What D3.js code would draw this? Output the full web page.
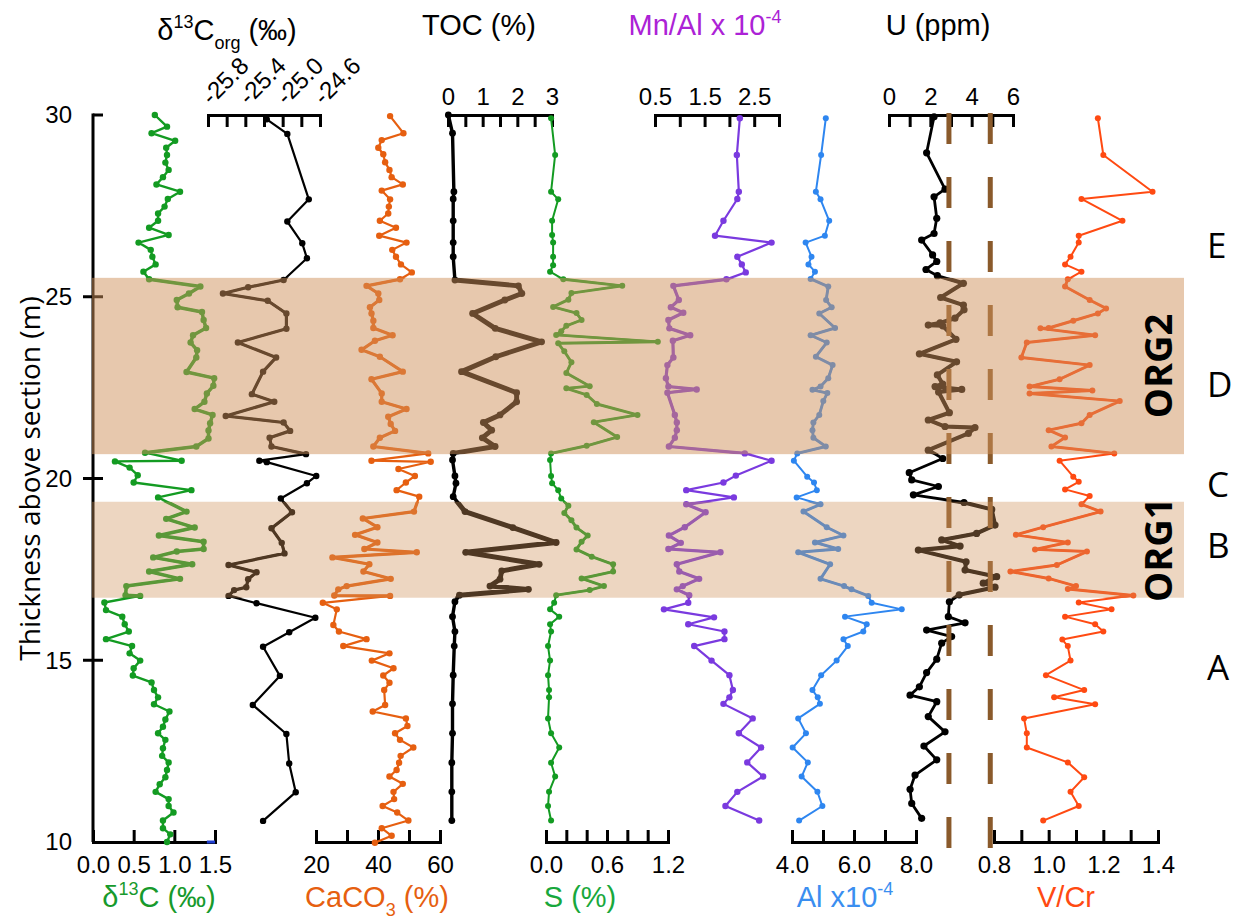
<!DOCTYPE html>
<html lang="en">
<head>
  <meta charset="UTF-8" />
  <title>Geochemical profiles - ORG1 / ORG2</title>
  <script src="https://d3js.org/d3.v7.min.js"></script>
  <style>
    html, body {
      margin: 0;
      padding: 0;
      background: #fff;
    }
    svg { display: block; }
    .num {
      font-family: 'Liberation Sans', Arial, sans-serif;
      font-size: 24px;
      fill: #000;
    }
    .title {
      font-family: 'Liberation Sans', Arial, sans-serif;
      font-size: 29px;
    }
    .zone {
      font-family: 'Open Sans', 'DejaVu Sans', sans-serif;
      font-size: 35px;
      fill: #000;
    }
    .org {
      font-family: 'Open Sans', 'DejaVu Sans', sans-serif;
      font-size: 38px;
      font-weight: 700;
      fill: #000;
    }
    .ylabel {
      font-family: 'Open Sans', 'DejaVu Sans', sans-serif;
      font-size: 28px;
      fill: #000;
    }
  </style>
</head>
<body>
  <svg id="chart" width="1240" height="922"></svg>

  <script>
    // ---- data: [thickness (m), value] ----
    const d13cCarb = [[30.00,0.76],[29.68,0.91],[29.50,0.72],[29.29,1.01],[29.10,0.90],[28.90,0.91],[28.69,0.89],[28.49,0.93],[28.29,0.86],[28.09,0.78],[27.89,1.07],[27.69,0.92],[27.48,0.88],[27.29,0.80],[27.09,0.80],[26.90,0.69],[26.70,0.93],[26.49,0.56],[26.29,0.71],[26.10,0.73],[25.89,0.77],[25.69,0.62],[25.48,0.69],[25.28,1.32],[25.09,1.18],[24.91,1.03],[24.71,1.04],[24.58,1.34],[24.36,1.36],[24.14,1.39],[23.94,1.23],[23.74,1.20],[23.53,1.28],[23.33,1.27],[22.93,1.15],[22.76,1.49],[22.55,1.48],[22.34,1.40],[22.11,1.37],[21.91,1.25],[21.75,1.47],[21.52,1.44],[21.32,1.42],[21.10,1.42],[20.88,1.27],[20.71,0.64],[20.49,1.09],[20.47,0.27],[20.30,0.45],[20.09,0.55],[19.89,0.50],[19.68,1.21],[19.48,0.80],[19.09,1.15],[18.89,0.90],[18.65,1.25],[18.43,0.81],[18.26,1.36],[18.06,1.36],[17.99,1.03],[17.83,0.74],[17.64,1.22],[17.44,0.69],[17.24,1.07],[17.04,0.41],[16.79,0.40],[16.77,0.58],[16.59,0.14],[16.38,0.16],[16.20,0.36],[15.99,0.39],[15.79,0.44],[15.58,0.16],[15.39,0.48],[15.19,0.45],[14.99,0.58],[14.78,0.50],[14.58,0.49],[14.39,0.72],[14.18,0.75],[13.98,0.80],[13.79,0.75],[13.59,0.94],[13.37,0.89],[13.17,0.86],[12.99,0.80],[12.81,0.89],[12.58,0.86],[12.37,0.85],[12.19,0.93],[11.98,0.91],[11.78,0.89],[11.59,0.82],[11.38,0.77],[11.18,0.93],[10.99,0.93],[10.81,0.99],[10.59,0.86],[10.38,0.86],[10.21,0.95],[10.00,0.91]];

    const d13cOrg = [[29.88,-25.17],[29.48,-24.95],[27.68,-24.72],[27.07,-24.95],[26.47,-24.79],[26.06,-24.74],[25.46,-24.99],[25.26,-25.37],[25.09,-25.64],[24.89,-25.16],[24.54,-24.96],[24.12,-24.96],[23.74,-25.48],[23.33,-25.07],[22.94,-25.21],[22.32,-25.33],[22.11,-25.09],[21.72,-25.61],[21.54,-24.99],[21.31,-24.92],[21.12,-25.14],[20.88,-25.12],[20.67,-24.75],[20.49,-25.25],[20.45,-25.17],[20.07,-24.64],[19.87,-24.74],[19.45,-25.02],[19.07,-24.90],[18.63,-25.12],[18.23,-25.01],[17.94,-24.98],[17.62,-25.58],[17.42,-25.28],[17.23,-25.37],[17.01,-25.39],[16.93,-25.52],[16.77,-25.58],[16.57,-25.28],[16.17,-24.65],[15.77,-24.93],[15.37,-25.21],[14.57,-25.03],[13.77,-25.32],[12.97,-24.96],[12.16,-24.93],[11.37,-24.86],[10.58,-25.21]];

    const caco3 = [[29.97,43.9],[29.50,48.2],[29.31,41.2],[29.10,40.1],[28.92,41.7],[28.70,42.3],[28.49,43.7],[28.29,44.4],[28.09,48.0],[27.92,41.2],[27.68,43.9],[27.48,43.5],[27.29,43.3],[27.09,40.6],[26.90,45.8],[26.68,40.4],[26.49,49.2],[26.29,44.6],[26.10,45.8],[25.89,47.4],[25.67,50.9],[25.48,47.1],[25.30,36.3],[25.09,40.1],[24.91,40.4],[24.71,37.4],[24.54,37.9],[24.34,38.5],[24.14,38.5],[23.94,44.7],[23.79,39.0],[23.54,34.7],[23.35,40.6],[22.94,48.0],[22.73,37.9],[22.34,41.2],[22.11,41.2],[21.91,49.2],[21.70,43.3],[21.50,44.1],[21.31,45.5],[21.12,40.6],[20.88,38.5],[20.69,56.2],[20.49,37.9],[20.46,57.0],[20.26,46.6],[20.07,51.9],[19.89,49.0],[19.68,46.0],[19.50,53.3],[19.09,51.6],[18.90,35.1],[18.66,39.8],[18.45,32.6],[18.24,39.8],[18.06,35.6],[17.97,52.5],[17.83,25.3],[17.64,37.2],[17.44,35.3],[17.24,44.1],[17.04,29.9],[16.95,27.2],[16.78,25.9],[16.77,43.9],[16.58,22.2],[16.40,26.7],[15.97,25.6],[15.79,27.4],[15.58,36.3],[15.39,28.8],[15.19,43.7],[14.99,38.0],[14.78,45.0],[14.58,41.7],[14.38,43.7],[14.18,42.0],[13.77,42.3],[13.59,38.3],[13.40,49.0],[13.19,49.5],[12.99,45.5],[12.81,47.1],[12.60,51.4],[12.37,47.3],[12.18,46.8],[11.98,46.0],[11.80,43.7],[11.60,48.0],[11.38,45.0],[11.18,45.2],[10.99,41.5],[10.81,46.2],[10.59,49.8],[10.38,41.2],[10.17,44.4],[9.98,39.0]];

    const toc = [[30.00,0.01],[29.50,0.13],[27.89,0.17],[27.69,0.15],[27.09,0.15],[26.49,0.15],[26.10,0.15],[25.46,0.20],[25.30,2.03],[25.09,2.13],[24.91,1.64],[24.54,0.71],[24.13,1.36],[23.76,2.70],[23.35,1.38],[22.94,0.39],[22.36,1.98],[22.11,1.98],[21.75,1.50],[21.54,1.02],[21.33,1.26],[21.12,0.99],[20.88,1.36],[20.69,0.15],[20.51,0.13],[20.07,0.20],[19.87,0.23],[19.50,0.15],[19.09,0.49],[18.65,1.87],[18.24,3.12],[17.97,0.51],[17.64,2.63],[17.46,1.55],[17.23,1.50],[17.04,1.21],[16.95,2.32],[16.79,0.33],[16.61,0.20],[16.20,0.13],[15.79,0.20],[15.39,0.18],[14.59,0.15],[13.80,0.13],[12.99,0.13],[12.18,0.11],[11.38,0.11],[10.59,0.11]];

    const sulfur = [[29.91,0.05],[28.90,0.09],[27.89,0.05],[27.68,0.12],[27.09,0.06],[26.70,0.06],[26.49,0.07],[26.10,0.07],[25.87,0.07],[25.69,0.04],[25.48,0.17],[25.30,0.75],[25.10,0.25],[24.92,0.22],[24.72,0.07],[24.55,0.30],[24.36,0.35],[24.20,0.20],[24.05,0.15],[23.95,0.10],[23.76,1.10],[23.72,0.12],[23.50,0.18],[23.20,0.25],[22.90,0.20],[22.54,0.43],[22.48,0.20],[22.30,0.40],[22.05,0.50],[21.75,0.90],[21.55,0.47],[21.14,0.70],[20.90,0.40],[20.69,0.05],[20.51,0.04],[20.07,0.05],[19.87,0.06],[19.68,0.12],[19.45,0.15],[19.25,0.22],[19.05,0.18],[18.85,0.25],[18.65,0.30],[18.43,0.41],[18.26,0.35],[18.05,0.30],[17.85,0.45],[17.64,0.66],[17.44,0.66],[17.25,0.35],[17.04,0.57],[16.93,0.43],[16.79,0.10],[16.58,0.08],[16.40,0.04],[16.20,0.13],[15.99,0.04],[15.79,0.05],[15.39,0.02],[14.99,0.04],[14.59,0.02],[14.18,0.03],[13.98,0.03],[13.40,0.02],[12.99,0.05],[12.60,0.13],[12.18,0.05],[11.80,0.09],[11.38,0.03],[10.99,0.02],[10.59,0.05]];

    const mnAl = [[29.91,2.21],[28.90,2.15],[27.89,2.19],[27.69,2.16],[27.09,1.88],[26.68,1.71],[26.49,2.85],[26.10,2.16],[25.89,2.25],[25.67,2.33],[25.48,1.94],[25.30,0.87],[24.91,0.98],[24.71,0.82],[24.56,1.07],[24.36,0.77],[24.13,0.79],[23.94,1.21],[23.79,0.86],[23.33,0.87],[23.12,0.75],[22.76,0.72],[22.53,0.77],[22.45,1.34],[22.36,0.75],[21.75,0.90],[21.54,0.94],[21.33,0.94],[21.12,0.90],[20.88,0.78],[20.69,2.31],[20.49,2.85],[20.08,2.13],[19.89,1.88],[19.68,1.13],[19.48,2.09],[19.29,1.13],[19.07,1.52],[18.66,1.10],[18.43,0.78],[18.23,1.02],[18.06,0.77],[17.97,1.82],[17.64,0.94],[17.44,0.99],[17.24,1.39],[17.04,1.06],[16.95,0.94],[16.79,1.19],[16.58,1.17],[16.40,0.68],[16.18,1.69],[15.99,1.17],[15.79,1.90],[15.58,1.90],[15.39,1.29],[14.99,1.64],[14.59,2.00],[14.18,2.07],[13.98,2.00],[13.80,1.88],[13.40,2.47],[12.99,2.19],[12.60,2.64],[12.19,2.36],[11.80,2.68],[11.38,2.16],[10.99,1.92],[10.59,2.60]];

    const alum = [[29.91,5.09],[28.90,4.94],[27.89,4.77],[27.68,4.92],[27.09,5.20],[26.68,5.06],[26.49,4.44],[26.10,4.63],[25.89,4.53],[25.69,4.74],[25.49,4.60],[25.28,5.17],[24.91,5.10],[24.71,5.28],[24.54,4.88],[24.14,5.39],[23.94,4.60],[23.74,5.12],[23.35,4.77],[23.12,5.31],[22.76,5.17],[22.53,4.92],[22.44,4.66],[22.35,5.14],[22.13,5.01],[21.75,4.88],[21.54,4.69],[21.33,4.66],[21.12,4.69],[20.88,5.09],[20.69,4.17],[20.49,4.06],[20.05,4.49],[19.89,4.71],[19.68,4.80],[19.48,4.15],[19.29,4.92],[19.09,4.37],[18.66,5.12],[18.43,5.66],[18.24,4.74],[18.06,5.49],[17.97,4.20],[17.64,5.23],[17.24,4.92],[17.04,5.68],[16.95,5.92],[16.77,6.46],[16.58,6.57],[16.40,7.54],[16.20,5.71],[15.99,6.41],[15.79,6.30],[15.58,5.66],[15.39,5.80],[14.99,5.44],[14.59,4.94],[14.18,4.66],[13.98,4.83],[13.80,4.90],[13.40,4.20],[12.99,4.45],[12.60,4.02],[12.19,4.51],[11.80,4.31],[11.38,4.82],[10.99,4.98],[10.59,4.23]];

    const uranium = [[29.95,2.18],[28.96,1.82],[27.96,2.71],[27.75,2.18],[27.16,2.31],[26.74,2.18],[26.56,1.58],[26.15,2.11],[25.97,2.31],[25.75,1.79],[25.58,2.34],[25.37,3.60],[24.98,2.50],[24.77,3.60],[24.64,3.63],[24.41,3.19],[24.28,2.47],[24.22,1.90],[24.20,2.60],[23.83,3.24],[23.43,1.47],[23.21,3.27],[22.85,2.34],[22.60,2.60],[22.53,2.23],[22.45,3.52],[22.38,2.40],[21.81,2.92],[21.61,1.90],[21.43,2.71],[21.40,4.16],[21.24,3.84],[20.78,1.90],[20.55,2.60],[20.16,0.98],[19.96,1.10],[19.78,2.39],[19.55,1.18],[19.34,3.63],[19.15,4.97],[18.72,5.13],[18.49,4.24],[18.31,2.55],[18.14,3.44],[18.03,1.42],[17.71,3.73],[17.48,3.68],[17.30,5.21],[17.12,4.56],[17.01,5.13],[16.80,3.40],[16.61,2.92],[16.20,2.87],[16.03,3.68],[15.83,1.82],[15.65,3.03],[15.47,2.55],[15.03,2.31],[14.66,1.82],[14.27,1.47],[14.04,1.02],[13.86,2.31],[13.45,1.90],[13.03,2.71],[12.64,1.69],[12.26,2.31],[11.84,1.26],[11.45,1.02],[11.06,1.10],[10.65,1.58]];

    const vCr = [[29.91,1.18],[28.90,1.20],[27.89,1.38],[27.69,1.12],[27.09,1.27],[26.68,1.11],[26.49,1.11],[26.10,1.08],[25.89,1.06],[25.69,1.12],[25.48,1.07],[25.28,1.06],[24.91,1.15],[24.68,1.21],[24.54,1.18],[24.34,1.09],[24.14,1.00],[24.13,0.97],[23.94,1.17],[23.74,0.92],[23.33,0.90],[23.12,1.15],[22.73,1.04],[22.53,0.93],[22.42,1.16],[22.34,0.93],[22.13,1.26],[21.75,1.15],[21.52,1.12],[21.33,1.00],[21.13,1.06],[20.88,1.01],[20.69,1.24],[20.49,1.04],[20.05,1.09],[19.91,1.11],[19.70,1.06],[19.52,1.15],[19.29,1.12],[19.09,1.19],[18.66,0.98],[18.45,0.88],[18.24,1.07],[18.05,0.95],[17.99,1.14],[17.62,1.03],[17.44,0.86],[17.25,1.00],[17.04,1.10],[16.96,1.07],[16.78,1.31],[16.59,1.11],[16.40,1.23],[16.20,1.06],[15.99,1.17],[15.79,1.20],[15.57,1.05],[15.39,1.07],[14.99,1.08],[14.59,0.99],[14.18,1.13],[13.98,1.02],[13.79,1.17],[13.40,0.91],[12.99,0.92],[12.60,0.92],[12.19,1.07],[11.78,1.13],[11.38,1.08],[10.99,1.11],[10.59,0.98]];

    // ---- ticks and labels ----
    const yTicks = [30, 25, 20, 15, 10];
    const d13cTicks = [0, 0.5, 1.0, 1.5];
    const d13cLabels = [0, 0.5, 1.0, 1.5];
    const d13cOrgTicks = [-25.8, -25.6, -25.4, -25.2, -25.0, -24.8, -24.6];
    const d13cOrgLabels = [-25.8, -25.4, -25.0, -24.6];
    const caco3Ticks = [20, 30, 40, 50, 60];
    const caco3Labels = [20, 40, 60];
    const tocTicks = [0, 0.5, 1, 1.5, 2, 2.5, 3];
    const tocLabels = [0, 1, 2, 3];
    const sTicks = [0, 0.2, 0.4, 0.6, 0.8, 1.0, 1.2];
    const sLabels = [0, 0.6, 1.2];
    const mnAlTicks = [0.5, 1.0, 1.5, 2.0, 2.5, 3.0];
    const mnAlLabels = [0.5, 1.5, 2.5];
    const alTicks = [4, 5, 6, 7, 8];
    const alLabels = [4, 6, 8];
    const uTicks = [0, 1, 2, 3, 4, 5, 6];
    const uLabels = [0, 2, 4, 6];
    const vCrTicks = [0.8, 0.9, 1.0, 1.1, 1.2, 1.3, 1.4];
    const vCrLabels = [0.8, 1.0, 1.2, 1.4];

    const uThresholds = [2.9, 4.9];
    const orgBands = [
      { name: "ORG2", top: 25.52, bottom: 20.67 },
      { name: "ORG1", top: 19.36, bottom: 16.72 }
    ];
    const zones = [
      { name: "E", depth: 26.42 },
      { name: "D", depth: 22.6 },
      { name: "C", depth: 19.85 },
      { name: "B", depth: 18.17 },
      { name: "A", depth: 14.8 }
    ];

    // ---- layout ----
    const svg = d3.select("#chart");
    const y = d3.scaleLinear().domain([10, 30]).range([842, 115]);

    const xD13c = d3.scaleLinear().domain([0, 1.5]).range([93, 215]);
    const xD13cOrg = d3.scaleLinear().domain([-25.8, -24.6]).range([208, 320]);
    const xCaco3 = d3.scaleLinear().domain([20, 60]).range([316, 440]);
    const xToc = d3.scaleLinear().domain([0, 3]).range([448, 552]);
    const xS = d3.scaleLinear().domain([0, 1.2]).range([546, 668]);
    const xMnAl = d3.scaleLinear().domain([0.5, 3]).range([655, 779]);
    const xAl = d3.scaleLinear().domain([4, 8]).range([792, 916]);
    const xU = d3.scaleLinear().domain([0, 6]).range([889, 1013]);
    const xVCr = d3.scaleLinear().domain([0.8, 1.4]).range([994, 1158]);

    const bandLeft = xD13c(0) - 1;
    const bandRight = xVCr(1.4) + 26;

    // clip for the thicker in-band segments
    const defs = svg.append("defs");
    const clip = defs.append("clipPath").attr("id", "bandClip");
    orgBands.forEach(b => {
      clip.append("rect")
        .attr("x", 0).attr("width", 1240)
        .attr("y", y(b.top)).attr("height", y(b.bottom) - y(b.top));
    });

    // ---- axes ----
    function fmt(labels, digits) {
      return v => labels.some(l => Math.abs(l - v) < 1e-6) ? v.toFixed(digits) : "";
    }

    function drawAxis(scale, ticks, format, side) {
      const axis = (side === "top" ? d3.axisTop(scale) : d3.axisBottom(scale))
        .tickValues(ticks)
        .tickSizeInner(-12)
        .tickSizeOuter(0)
        .tickPadding(side === "top" ? 10 : 14)
        .tickFormat(format);
      const g = svg.append("g")
        .attr("transform", `translate(0,${side === "top" ? y(30) : y(10)})`)
        .call(axis);
      g.select(".domain").attr("stroke-width", 3).attr("stroke-linecap", "square");
      g.selectAll(".tick line").attr("stroke-width", 3);
      g.selectAll(".tick text").attr("class", "num");
      return g;
    }

    drawAxis(xD13c, d13cTicks, fmt(d13cLabels, 1), "bottom");
    // small blue stroke on the right end of the first axis
    svg.append("line")
      .attr("x1", xD13c(1.4)).attr("x2", xD13c(1.5))
      .attr("y1", y(10)).attr("y2", y(10))
      .attr("stroke", "#1f3fd0").attr("stroke-width", 3);

    const orgAxis = drawAxis(xD13cOrg, d13cOrgTicks, fmt(d13cOrgLabels, 1), "top");
    orgAxis.selectAll(".tick text")
      .attr("y", 0).attr("dy", 0)
      .attr("text-anchor", "start")
      .attr("transform", "translate(3,-9) rotate(-45)");

    drawAxis(xCaco3, caco3Ticks, fmt(caco3Labels, 0), "bottom");
    drawAxis(xToc, tocTicks, fmt(tocLabels, 0), "top");
    drawAxis(xS, sTicks, fmt(sLabels, 1), "bottom");
    drawAxis(xMnAl, mnAlTicks, fmt(mnAlLabels, 1), "top");
    drawAxis(xAl, alTicks, fmt(alLabels, 1), "bottom");
    drawAxis(xU, uTicks, fmt(uLabels, 0), "top");
    drawAxis(xVCr, vCrTicks, fmt(vCrLabels, 1), "bottom");

    // y axis
    const x0 = xD13c(0);
    svg.append("line")
      .attr("x1", x0).attr("x2", x0)
      .attr("y1", y(30) - 1.5).attr("y2", y(10))
      .attr("stroke", "#000").attr("stroke-width", 3);
    svg.selectAll(".ytick")
      .data(yTicks.filter(t => t !== 10))
      .enter().append("line")
      .attr("class", "ytick")
      .attr("x1", t => t === 30 ? x0 : x0 - 10)
      .attr("x2", x0 + 10)
      .attr("y1", t => y(t)).attr("y2", t => y(t))
      .attr("stroke", "#000").attr("stroke-width", 3);
    svg.selectAll(".ylab")
      .data(yTicks)
      .enter().append("text")
      .attr("class", "num ylab")
      .attr("x", 72)
      .attr("y", t => y(t))
      .attr("dy", "0.35em")
      .attr("text-anchor", "end")
      .text(t => t);

    svg.append("text")
      .attr("class", "ylabel")
      .attr("transform", `translate(40,${y(20)}) rotate(-90)`)
      .attr("text-anchor", "middle")
      .text("Thickness above section (m)");

    // ---- series ----
    const series = [
      { data: d13cCarb, x: xD13c, color: "#139b22", w: 2.4, r: 3.2 },
      { data: d13cOrg, x: xD13cOrg, color: "#000000", w: 2.2, r: 3.2 },
      { data: caco3, x: xCaco3, color: "#e65f10", w: 2.2, r: 3.2 },
      { data: toc, x: xToc, color: "#000000", w: 3.4, r: 3.4 },
      { data: sulfur, x: xS, color: "#139b22", w: 2.0, r: 3.0 },
      { data: mnAl, x: xMnAl, color: "#7a3adf", w: 2.2, r: 3.2 },
      { data: alum, x: xAl, color: "#2e86f0", w: 2.0, r: 3.0 },
      { data: uranium, x: xU, color: "#000000", w: 2.8, r: 3.6 },
      { data: vCr, x: xVCr, color: "#ff4a12", w: 2.0, r: 3.0 }
    ];

    series.forEach(s => {
      const line = d3.line().x(d => s.x(d[1])).y(d => y(d[0]));
      const g = svg.append("g");
      g.append("path")
        .datum(s.data)
        .attr("d", line)
        .attr("fill", "none")
        .attr("stroke", s.color)
        .attr("stroke-width", s.w)
        .attr("stroke-linejoin", "round");
      g.append("path")
        .datum(s.data)
        .attr("d", line)
        .attr("clip-path", "url(#bandClip)")
        .attr("fill", "none")
        .attr("stroke", s.color)
        .attr("stroke-width", s.w * 1.45)
        .attr("stroke-linejoin", "round");
      g.selectAll("circle")
        .data(s.data)
        .enter().append("circle")
        .attr("cx", d => s.x(d[1]))
        .attr("cy", d => y(d[0]))
        .attr("r", s.r)
        .attr("fill", s.color);
    });

    // U threshold dashed lines
    svg.selectAll(".thr")
      .data(uThresholds)
      .enter().append("line")
      .attr("class", "thr")
      .attr("x1", d => xU(d)).attr("x2", d => xU(d))
      .attr("y1", y(30) - 2).attr("y2", y(10) + 6)
      .attr("stroke", "#8a5a2b")
      .attr("stroke-width", 5)
      .attr("stroke-dasharray", "31,33");

    // ORG bands drawn over everything
    svg.selectAll(".band")
      .data(orgBands)
      .enter().append("rect")
      .attr("class", "band")
      .attr("x", bandLeft)
      .attr("width", bandRight - bandLeft)
      .attr("y", d => y(d.top))
      .attr("height", d => y(d.bottom) - y(d.top))
      .attr("fill", "#d0925c")
      .attr("fill-opacity", d => d.name === "ORG2" ? 0.5 : 0.38);

    svg.selectAll(".orglab")
      .data(orgBands)
      .enter().append("text")
      .attr("class", "org")
      .attr("transform", d => `translate(1172,${y((d.top + d.bottom) / 2)}) rotate(-90)`)
      .attr("text-anchor", "middle")
      .text(d => d.name);

    svg.selectAll(".zone")
      .data(zones)
      .enter().append("text")
      .attr("class", "zone")
      .attr("x", 1207)
      .attr("y", d => y(d.depth))
      .attr("dy", "0.36em")
      .text(d => d.name);

    // ---- titles ----
    function title(x, yy, color, parts) {
      const t = svg.append("text")
        .attr("class", "title")
        .attr("x", x).attr("y", yy)
        .attr("text-anchor", "middle")
        .attr("fill", color);
      let shift = 0;
      parts.forEach(p => {
        const target = p.sup ? -12 : p.sub ? 9 : 0;
        const ts = t.append("tspan").text(p.t).attr("dy", target - shift);
        if (p.sup || p.sub) ts.attr("font-size", "18px");
        shift = target;
      });
    }

    title(227, 40, "#000", [{ t: "δ" }, { t: "13", sup: true }, { t: "C" }, { t: "org", sub: true }, { t: " (‰)" }]);
    title(479, 35, "#000", [{ t: "TOC (%)" }]);
    title(705, 35, "#ac22d6", [{ t: "Mn/Al x 10" }, { t: "-4", sup: true }]);
    title(938, 35, "#000", [{ t: "U (ppm)" }]);

    title(159, 907, "#179a2c", [{ t: "δ" }, { t: "13", sup: true }, { t: "C (‰)" }]);
    title(377, 907, "#e65f10", [{ t: "CaCO" }, { t: "3", sub: true }, { t: " (%)" }]);
    title(580, 907, "#18a83c", [{ t: "S (%)" }]);
    title(845, 907, "#3a8ef0", [{ t: "Al x10" }, { t: "-4", sup: true }]);
    title(1066, 907, "#ff4a12", [{ t: "V/Cr" }]);
  </script>
</body>
</html>
